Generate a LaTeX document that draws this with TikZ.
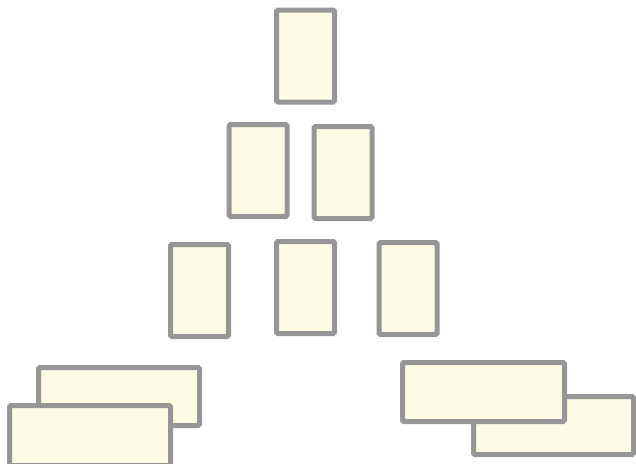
\documentclass[tikz,border=0pt]{standalone}
\definecolor{boxfill}{RGB}{254,251,229}
\definecolor{boxline}{RGB}{150,150,150}
\begin{document}
\begin{tikzpicture}[x=1pt,y=-1pt,
  card/.style={draw=boxline,fill=boxfill,line width=5pt,rounded corners=1.5pt,inner sep=0pt,outer sep=0pt,minimum width=#1},
  tall/.style={card=58pt,minimum height=92pt},
  wide/.style={card=161pt,minimum height=58pt}]
\useasboundingbox (0,0) rectangle (636,463);
\clip (0,0) rectangle (636,463);
\node[tall] (t1) at (305.5,56) {};
\node[tall] (m1) at (258,170.5) {};
\node[tall] (m2) at (343,172.5) {};
\node[tall] (b1) at (199.5,290.5) {};
\node[tall] (b2) at (305.5,287.5) {};
\node[tall] (b3) at (408,288.5) {};
\node[wide] (lback) at (119,396.5) {};
\node[wide,minimum height=60pt] (lfront) at (90,435.5) {};
\node[wide,minimum width=160pt] (rback) at (553.5,425.5) {};
\node[wide,minimum width=162pt,minimum height=59pt] (rfront) at (483.5,392) {};
\end{tikzpicture}
\end{document}
